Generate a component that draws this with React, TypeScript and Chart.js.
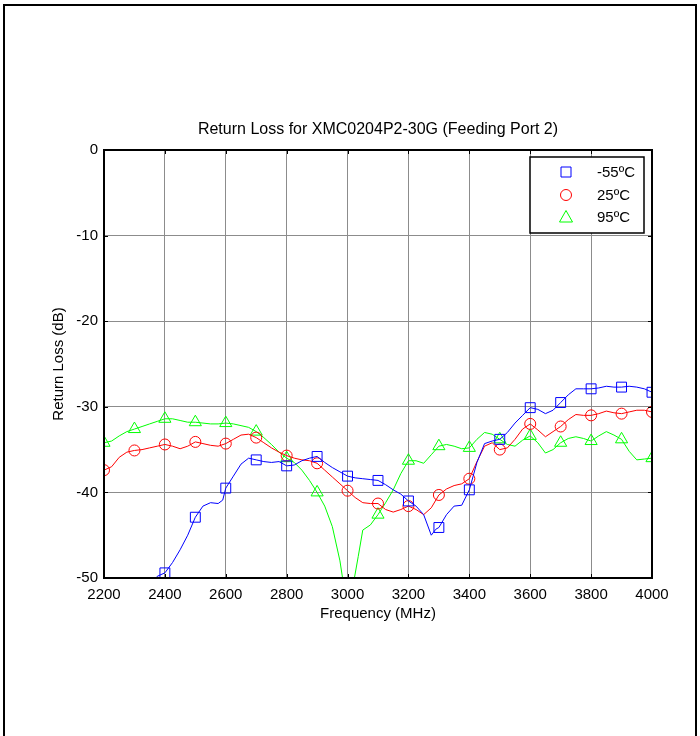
import React, { useEffect, useRef } from "react";
import { Chart, registerables } from "chart.js";

Chart.register(...registerables);

const chartTitle = "Return Loss for XMC0204P2-30G (Feeding Port 2)";
const xAxisTitle = "Frequency (MHz)";
const yAxisTitle = "Return Loss (dB)";
const xTickValues = [2200, 2400, 2600, 2800, 3000, 3200, 3400, 3600, 3800, 4000];
const yTickValues = [0, -10, -20, -30, -40, -50];
const seriesNames = ["-55ºC", "25ºC", "95ºC"];

const coldFreq = [2350, 2375, 2400, 2425, 2450, 2475, 2500, 2525, 2550, 2575, 2590, 2600, 2625, 2650, 2675, 2700, 2725, 2750, 2775, 2800, 2825, 2850, 2875, 2900, 2925, 2950, 2975, 3000, 3025, 3050, 3075, 3100, 3125, 3150, 3175, 3200, 3225, 3250, 3275, 3290, 3300, 3325, 3350, 3375, 3400, 3425, 3450, 3475, 3500, 3525, 3550, 3575, 3600, 3625, 3650, 3675, 3700, 3725, 3750, 3775, 3800, 3825, 3850, 3875, 3900, 3925, 3950, 3975, 4000];
const coldLoss = [-51.5, -49.8, -49.4, -48.2, -46.7, -45.0, -42.9, -41.6, -41.2, -41.3, -40.9, -39.5, -38.1, -36.7, -36.0, -36.2, -36.4, -36.5, -36.4, -36.9, -36.8, -36.3, -36.0, -35.8, -36.5, -37.1, -37.6, -38.1, -38.3, -38.4, -38.5, -38.6, -39.1, -39.7, -40.2, -41.0, -41.6, -42.6, -45.0, -44.3, -44.1, -42.6, -41.6, -41.5, -39.7, -36.5, -34.3, -34.0, -33.8, -33.0, -31.9, -31.0, -30.1, -30.3, -30.8, -30.4, -29.5, -28.6, -27.9, -27.9, -27.9, -27.8, -27.6, -27.7, -27.7, -27.6, -27.7, -27.9, -28.3];

const roomFreq = [2200, 2225, 2250, 2275, 2300, 2325, 2350, 2375, 2400, 2425, 2450, 2475, 2500, 2525, 2550, 2575, 2600, 2625, 2650, 2675, 2700, 2725, 2750, 2775, 2800, 2825, 2850, 2875, 2900, 2925, 2950, 2975, 3000, 3025, 3050, 3075, 3100, 3125, 3150, 3175, 3200, 3225, 3250, 3275, 3300, 3325, 3350, 3375, 3400, 3425, 3450, 3475, 3500, 3525, 3550, 3575, 3600, 3625, 3650, 3675, 3700, 3725, 3750, 3775, 3800, 3825, 3850, 3875, 3900, 3925, 3950, 3975, 4000];
const roomLoss = [-37.4, -37.0, -35.9, -35.3, -35.1, -35.0, -34.8, -34.6, -34.4, -34.6, -34.9, -34.6, -34.1, -34.3, -34.5, -34.6, -34.3, -33.8, -33.3, -33.2, -33.6, -34.2, -34.8, -35.3, -35.7, -36.0, -36.2, -36.3, -36.6, -37.4, -38.2, -39.0, -39.8, -40.6, -41.2, -41.3, -41.3, -42.0, -42.3, -42.0, -41.6, -42.0, -42.6, -41.8, -40.3, -39.6, -39.2, -39.0, -38.4, -36.4, -34.6, -34.2, -35.0, -34.8, -33.8, -32.6, -32.0, -32.7, -33.5, -32.9, -32.3, -31.5, -30.9, -31.0, -31.0, -30.8, -30.5, -30.7, -30.8, -30.6, -30.4, -30.4, -30.6];

const hotFreq = [2200, 2225, 2250, 2275, 2300, 2325, 2350, 2375, 2400, 2425, 2450, 2475, 2500, 2525, 2550, 2575, 2600, 2625, 2650, 2675, 2700, 2725, 2750, 2775, 2800, 2825, 2850, 2875, 2900, 2925, 2950, 2975, 2990, 3000, 3010, 3020, 3035, 3050, 3075, 3100, 3125, 3150, 3175, 3200, 3225, 3250, 3275, 3300, 3325, 3350, 3375, 3400, 3425, 3450, 3475, 3500, 3525, 3550, 3575, 3600, 3625, 3650, 3675, 3700, 3725, 3750, 3775, 3800, 3825, 3850, 3875, 3900, 3925, 3950, 3975, 4000];
const hotLoss = [-34.2, -34.0, -33.4, -32.9, -32.6, -32.3, -32.0, -31.7, -31.4, -31.4, -31.6, -31.8, -31.8, -31.9, -32.0, -32.0, -31.9, -32.0, -32.2, -32.4, -32.9, -33.6, -34.4, -35.3, -36.0, -36.5, -37.4, -38.6, -40.0, -41.6, -44.0, -48.0, -51.5, -54.0, -53.0, -50.5, -47.5, -44.4, -43.8, -42.6, -41.2, -39.7, -37.8, -36.3, -36.3, -36.6, -35.6, -34.6, -34.4, -34.6, -34.9, -34.8, -33.8, -33.0, -33.2, -33.8, -34.4, -34.6, -33.9, -33.4, -34.2, -35.4, -35.0, -34.2, -33.7, -33.5, -33.7, -34.0, -33.4, -32.9, -33.3, -33.8, -35.2, -36.2, -36.1, -36.0];

const FONT = "'Liberation Sans', Arial, Helvetica, sans-serif";
const colors = ["#0000ff", "#ff0000", "#00ff00"];
const styles = ["rect", "circle", "triangle"];
const radii = [7, 5.5, 7];

function drawMarker(ctx: CanvasRenderingContext2D, style: string, x: number, y: number, color: string) {
  ctx.save();
  ctx.strokeStyle = color;
  ctx.lineWidth = 1;
  ctx.beginPath();
  if (style === "rect") {
    ctx.rect(x - 5, y - 5, 10, 10);
  } else if (style === "circle") {
    ctx.arc(x, y, 5.5, 0, Math.PI * 2);
  } else {
    ctx.moveTo(x, y - 6.5);
    ctx.lineTo(x + 6.5, y + 5);
    ctx.lineTo(x - 6.5, y + 5);
    ctx.closePath();
  }
  ctx.stroke();
  ctx.restore();
}

const framePlugin = {
  id: "matlabFrame",
  afterDatasetsDraw(chart: any) {
    const { ctx, chartArea } = chart;
    const { left, right, top, bottom } = chartArea;
    const xs = chart.scales.x;
    const ys = chart.scales.y;
    ctx.save();
    ctx.strokeStyle = "#000";
    ctx.lineWidth = 1;
    ctx.beginPath();
    xTickValues.forEach((v) => {
      const px = Math.round(xs.getPixelForValue(v)) + 0.5;
      ctx.moveTo(px, top);
      ctx.lineTo(px, top + 4);
      ctx.moveTo(px, bottom);
      ctx.lineTo(px, bottom - 4);
    });
    yTickValues.forEach((v) => {
      const py = Math.round(ys.getPixelForValue(v)) + 0.5;
      ctx.moveTo(left, py);
      ctx.lineTo(left + 4, py);
      ctx.moveTo(right, py);
      ctx.lineTo(right - 4, py);
    });
    ctx.stroke();
    ctx.lineWidth = 2;
    ctx.strokeRect(left, top, right - left, bottom - top);

    // title centred over the plot box
    ctx.fillStyle = "#000";
    ctx.font = `16px ${FONT}`;
    ctx.textAlign = "center";
    ctx.textBaseline = "middle";
    ctx.fillText(chartTitle, (left + right) / 2, top - 20);

    // legend
    const bx = 530, by = 157, bw = 114, bh = 76;
    ctx.fillStyle = "#fff";
    ctx.fillRect(bx, by, bw, bh);
    ctx.lineWidth = 1.5;
    ctx.strokeRect(bx, by, bw, bh);
    const rows = [172, 195, 217];
    ctx.font = `15px ${FONT}`;
    ctx.textBaseline = "middle";
    ctx.textAlign = "left";
    seriesNames.forEach((name, i) => {
      drawMarker(ctx, styles[i], 566, rows[i], colors[i]);
      ctx.fillStyle = "#000";
      ctx.fillText(name, 597, rows[i] + 1);
    });
    ctx.restore();
  },
};

function makeDataset(label: string, freq: number[], loss: number[], i: number) {
  return {
    label,
    data: freq.map((f, k) => ({ x: f, y: loss[k] })),
    borderColor: colors[i],
    backgroundColor: "transparent",
    borderWidth: 1,
    tension: 0,
    pointStyle: styles[i] as any,
    pointRadius: (c: any) => (c.raw && c.raw.x % 100 === 0 ? radii[i] : 0),
    pointBorderColor: colors[i],
    pointBackgroundColor: "transparent",
    pointBorderWidth: 1,
    pointHoverRadius: 0,
  };
}

export default function App() {
  const ref = useRef<HTMLCanvasElement>(null);
  useEffect(() => {
    if (!ref.current) return;
    const tickFont = { family: FONT, size: 15, weight: "normal" as any, lineHeight: 1.2 };
    const chart = new Chart(ref.current, {
      type: "line",
      data: {
        datasets: [
          makeDataset(seriesNames[0], coldFreq, coldLoss, 0),
          makeDataset(seriesNames[1], roomFreq, roomLoss, 1),
          makeDataset(seriesNames[2], hotFreq, hotLoss, 2),
        ] as any,
      },
      options: {
        responsive: false,
        animation: false,
        events: [],
        layout: { padding: { left: 30, right: 48, top: 150, bottom: 113 } },
        plugins: {
          legend: { display: false },
          tooltip: { enabled: false },
          title: { display: false },
        },
        scales: {
          x: {
            type: "linear",
            min: 2200,
            max: 4000,
            afterBuildTicks: (s: any) => {
              s.ticks = xTickValues.map((v) => ({ value: v }));
            },
            afterFit: (s: any) => {
              s.height = 45;
            },
            ticks: {
              color: "#000",
              font: tickFont,
              padding: 8,
              maxRotation: 0,
              autoSkip: false,
              callback: (v: any) => String(v),
            },
            grid: { color: "#8c8c8c", lineWidth: 1, drawTicks: false },
            border: { display: false },
            title: { display: true, text: xAxisTitle, color: "#000", font: tickFont, padding: 0 },
          },
          y: {
            type: "linear",
            min: -50,
            max: 0,
            afterBuildTicks: (s: any) => {
              s.ticks = yTickValues.map((v) => ({ value: v }));
            },
            afterFit: (s: any) => {
              s.width = 74;
            },
            ticks: {
              color: "#000",
              font: tickFont,
              padding: 6,
              autoSkip: false,
              callback: (v: any) => String(v),
            },
            grid: { color: "#8c8c8c", lineWidth: 1, drawTicks: false },
            border: { display: false },
            title: { display: true, text: yAxisTitle, color: "#000", font: tickFont, padding: { top: 20, bottom: 0 } },
          },
        },
      },
      plugins: [framePlugin],
    });
    return () => chart.destroy();
  }, []);

  return (
    <div style={{ position: "absolute", left: 0, top: 0, width: 700, height: 736, background: "#fff", overflow: "hidden" }}>
      <canvas ref={ref} width={700} height={736} style={{ position: "absolute", left: 0, top: 0, width: 700, height: 736 }} />
      <div
        style={{
          position: "absolute",
          left: 3,
          top: 4,
          width: 690,
          height: 740,
          borderLeft: "2px solid #000",
          borderTop: "2px solid #000",
          borderRight: "2px solid #000",
          pointerEvents: "none",
        }}
      />
    </div>
  );
}
